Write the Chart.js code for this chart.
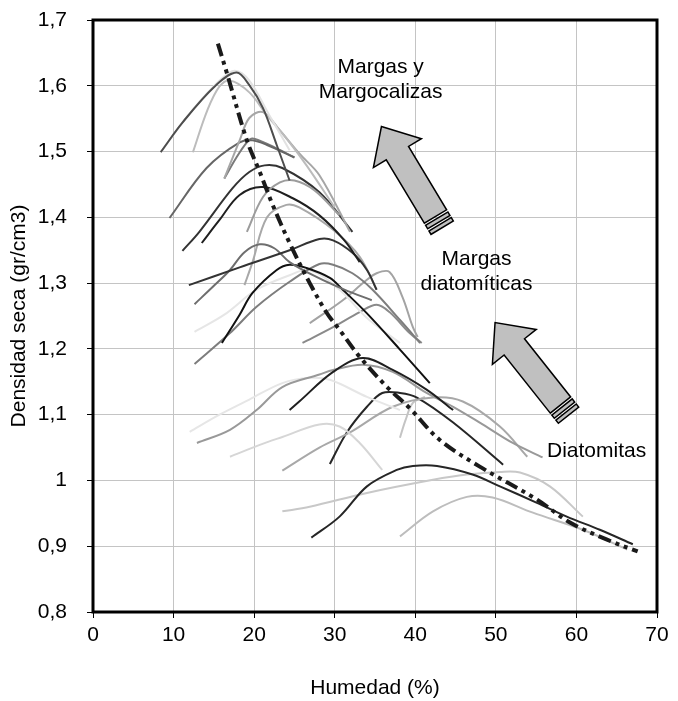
<!DOCTYPE html>
<html>
<head>
<meta charset="utf-8">
<script src="https://cdn.jsdelivr.net/npm/chart.js@4.4.1/dist/chart.umd.min.js"></script>
<style>
  html, body { margin: 0; padding: 0; background: #fff; }
  #wrap { width: 678px; height: 701px; }
</style>
</head>
<body>
<div id="wrap"><canvas id="curvas" width="678" height="701"></canvas></div>
<script>
// ejes
const xTicks = [0, 10, 20, 30, 40, 50, 60, 70];
const yTicks = [0.8, 0.9, 1.0, 1.1, 1.2, 1.3, 1.4, 1.5, 1.6, 1.7];
const yTickLabels = ["0,8", "0,9", "1", "1,1", "1,2", "1,3", "1,4", "1,5", "1,6", "1,7"];

// curvas Proctor: [humedad %, densidad seca gr/cm3]
const curve01 = [[8.4,1.499],[11.1,1.544],[15.1,1.599],[17.8,1.620],[19.4,1.601],[21.1,1.566],[22.8,1.510],[24.4,1.456]];
const curve02 = [[8.4,1.499],[12.0,1.558],[15.7,1.608],[17.6,1.623],[19.4,1.608],[21.9,1.555],[24.4,1.502]];
const curve03 = [[12.4,1.499],[14.2,1.563],[15.7,1.599],[17.0,1.608],[19.4,1.590],[21.6,1.555],[24.0,1.520],[26.5,1.479],[30.0,1.415]];
const curve04 = [[16.3,1.459],[18.2,1.517],[19.4,1.551],[21.1,1.560],[23.2,1.532],[25.6,1.497],[28.1,1.464],[31.9,1.378]];
const curve05 = [[19.1,1.378],[21.1,1.431],[23.2,1.453],[25.0,1.456],[27.5,1.441],[30.6,1.403]];
const curve06 = [[9.5,1.399],[14.1,1.475],[18.2,1.514],[19.8,1.517],[21.6,1.510],[25.0,1.491]];
const curve07 = [[16.3,1.459],[17.8,1.491],[19.1,1.514],[19.8,1.520],[21.9,1.510],[25.0,1.491]];
const curve08 = [[11.1,1.349],[13.2,1.378],[17.3,1.444],[19.4,1.469],[21.3,1.479],[23.5,1.475],[28.1,1.438],[32.2,1.378]];
const curve09 = [[13.5,1.361],[15.7,1.396],[18.2,1.434],[21.1,1.446],[24.8,1.429],[28.1,1.403],[31.2,1.365],[33.1,1.332]];
const curve10 = [[11.9,1.297],[18.2,1.324],[24.4,1.350],[28.1,1.367],[29.8,1.365],[32.2,1.346],[34.0,1.320],[35.2,1.290]];
const curve11 = [[12.6,1.268],[15.1,1.297],[17.0,1.320],[18.8,1.347],[20.7,1.359],[22.5,1.353],[24.4,1.332],[27.8,1.309],[31.2,1.290],[34.6,1.274]];
const curve12 = [[18.8,1.297],[19.8,1.332],[21.6,1.400],[24.0,1.419],[25.6,1.415],[29.8,1.381],[33.1,1.340],[35.2,1.290]];
const curve13 = [[16.0,1.209],[18.2,1.252],[19.8,1.285],[22.8,1.320],[24.4,1.328],[26.5,1.323],[29.4,1.308],[31.0,1.290],[34.0,1.254],[38.1,1.199],[41.8,1.148]];
const curve14 = [[12.6,1.177],[17.0,1.224],[20.3,1.264],[24.4,1.302],[28.1,1.329],[29.8,1.328],[32.2,1.315],[34.7,1.290],[38.1,1.244],[40.6,1.209]];
const curve15 = [[12.6,1.226],[16.3,1.252],[20.3,1.290],[24.4,1.312],[26.9,1.320],[30.6,1.290],[34.0,1.247],[38.1,1.209]];
const curve16 = [[26.9,1.239],[31.0,1.274],[33.7,1.302],[35.2,1.315],[36.8,1.317],[38.4,1.279],[39.7,1.233],[40.3,1.218]];
const curve17 = [[26.0,1.209],[29.8,1.233],[33.1,1.256],[35.2,1.267],[36.8,1.256],[39.3,1.224],[40.8,1.209]];
const curve18 = [[24.4,1.107],[25.6,1.120],[29.8,1.165],[33.5,1.186],[37.2,1.168],[41.4,1.138],[44.7,1.107]];
const curve19 = [[12.9,1.057],[17.0,1.077],[20.3,1.107],[23.5,1.142],[28.1,1.161],[29.8,1.168],[33.5,1.176],[37.2,1.165],[41.4,1.133],[44.7,1.112],[48.0,1.088],[52.1,1.057],[55.8,1.035]];
const curve20 = [[12.0,1.074],[15.7,1.100],[19.4,1.123],[23.5,1.148],[26.9,1.156],[29.4,1.153],[34.0,1.127],[38.1,1.107]];
const curve21 = [[17.0,1.036],[20.7,1.054],[23.5,1.066],[28.1,1.085],[30.6,1.082],[33.1,1.057],[35.9,1.016]];
const curve22 = [[23.5,1.015],[28.1,1.050],[31.9,1.073],[37.2,1.112],[42.2,1.126],[45.9,1.120],[50.5,1.082],[53.9,1.036]];
const curve23 = [[29.4,1.025],[31.5,1.073],[34.0,1.112],[35.9,1.133],[38.1,1.133],[40.2,1.126],[44.7,1.088],[50.9,1.024]];
const curve24 = [[38.1,1.065],[38.8,1.092],[39.7,1.118],[41.2,1.127]];
const curve25 = [[27.1,0.913],[30.6,0.945],[34.0,0.991],[37.7,1.016],[39.7,1.022],[42.7,1.022],[47.1,1.009],[50.5,0.991],[55.1,0.966],[58.8,0.945],[62.9,0.925],[67.0,0.903]];
const curve26 = [[23.5,0.953],[26.9,0.960],[34.0,0.981],[42.2,1.001],[46.4,1.009],[50.5,1.013],[53.0,1.012],[56.7,0.991],[60.8,0.945]];
const curve27 = [[38.1,0.915],[42.2,0.953],[46.4,0.975],[49.6,0.974],[54.6,0.951],[60.8,0.925],[66.3,0.895]];

// línea de tendencia (humedad óptima / densidad máxima)
const trendLine = [[15.5,1.664],[16.6,1.620],[19.1,1.517],[20.7,1.469],[22.3,1.419],[24.4,1.361],[26.9,1.300],[29.0,1.255],[30.6,1.229],[33.1,1.188],[36.5,1.142],[39.3,1.110],[43.0,1.062],[48.0,1.021],[55.1,0.971],[59.2,0.936],[63.8,0.910],[67.6,0.892]];

const curves = [curve01, curve02, curve03, curve04, curve05, curve06, curve07, curve08, curve09,
  curve10, curve11, curve12, curve13, curve14, curve15, curve16, curve17, curve18, curve19,
  curve20, curve21, curve22, curve23, curve24, curve25, curve26, curve27];
const curveShades = ["#4d4d4d", "#e2e2e2", "#bcbcbc", "#a6a6a6", "#9c9c9c", "#666666", "#7a7a7a", "#333333", "#1f1f1f",
  "#333333", "#6e6e6e", "#a8a8a8", "#111111", "#7d7d7d", "#e6e6e6", "#a3a3a3", "#8a8a8a", "#1f1f1f", "#999999",
  "#e6e6e6", "#d6d6d6", "#a8a8a8", "#262626", "#c4c4c4", "#262626", "#c8c8c8", "#bdbdbd"];

const FONT = "'Liberation Sans', Arial, sans-serif";
Chart.defaults.font.family = FONT;
Chart.defaults.color = "#000";

const datasets = curves.map((pts, i) => ({
  data: pts.map(([x, y]) => ({ x, y })),
  borderColor: curveShades[i],
  borderWidth: 2,
  order: 1,
}));
datasets.push({
  data: trendLine.map(([x, y]) => ({ x, y })),
  borderColor: "#1a1a1a",
  borderWidth: 4,
  borderDash: [13, 5, 4, 5, 4, 5],
  borderCapStyle: "butt",
  order: 0,
});

// flechas y rótulos de zonas
function blockArrow(ctx, tail, tip) {
  const dx = tip.x - tail.x, dy = tip.y - tail.y;
  const len = Math.hypot(dx, dy);
  const hw = 13, hh = 28, hl = 31;
  ctx.save();
  ctx.translate(tail.x, tail.y);
  ctx.rotate(Math.atan2(dy, dx));
  ctx.fillStyle = "#c0c0c0";
  ctx.strokeStyle = "#000";
  ctx.lineWidth = 1.5;
  ctx.beginPath();
  ctx.moveTo(14, -hw);
  ctx.lineTo(len - hl, -hw);
  ctx.lineTo(len - hl, -hh);
  ctx.lineTo(len, 0);
  ctx.lineTo(len - hl, hh);
  ctx.lineTo(len - hl, hw);
  ctx.lineTo(14, hw);
  ctx.closePath();
  ctx.fill();
  ctx.stroke();
  [[7.5, 4], [1, 4]].forEach(([x0, w]) => {
    ctx.fillRect(x0, -hw, w, 2 * hw);
    ctx.strokeRect(x0, -hw, w, 2 * hw);
  });
  ctx.restore();
}

const zonas = {
  id: "zonas",
  afterDatasetsDraw(chart) {
    const { ctx, scales: { x, y }, chartArea: a } = chart;
    const p = (hx, dy) => ({ x: x.getPixelForValue(hx), y: y.getPixelForValue(dy) });

    blockArrow(ctx, p(43.4, 1.383), p(35.8, 1.538));
    blockArrow(ctx, p(59.1, 1.098), p(49.9, 1.240));

    ctx.save();
    ctx.fillStyle = "#000";
    ctx.font = "21px " + FONT;
    ctx.textAlign = "center";
    ctx.textBaseline = "middle";
    const t = (txt, hx, dy) => { const q = p(hx, dy); ctx.fillText(txt, q.x, q.y); };
    t("Margas y", 35.7, 1.628);
    t("Margocalizas", 35.7, 1.590);
    t("Margas", 47.6, 1.337);
    t("diatomíticas", 47.6, 1.299);
    t("Diatomitas", 62.5, 1.045);

    // marco del área de trazado
    ctx.strokeStyle = "#000";
    ctx.lineWidth = 3;
    ctx.strokeRect(a.left, a.top, a.right - a.left, a.bottom - a.top);
    ctx.restore();
  },
};

// sin márgenes extra de las etiquetas: el área de trazado queda fijada por el layout
const noLabelPadding = (s) => {
  s.paddingTop = 0;
  s.paddingBottom = 0;
  s.paddingLeft = 0;
  s.paddingRight = 0;
};

new Chart(document.getElementById("curvas"), {
  type: "scatter",
  data: { datasets },
  options: {
    responsive: false,
    animation: false,
    devicePixelRatio: 1,
    showLine: true,
    elements: {
      point: { radius: 0, hoverRadius: 0 },
      line: { tension: 0.35, fill: false },
    },
    layout: { padding: { top: 20, right: 21, left: 0, bottom: 0 } },
    plugins: { legend: { display: false }, tooltip: { enabled: false } },
    scales: {
      x: {
        type: "linear",
        min: 0,
        max: 70,
        afterBuildTicks: (s) => { s.ticks = xTicks.map((v) => ({ value: v })); },
        afterFit: (s) => { s.height = 89; noLabelPadding(s); },
        ticks: { font: { size: 21 }, padding: 5, maxRotation: 0 },
        grid: { color: "#c4c4c4", tickColor: "#000", tickLength: 6 },
        border: { display: false },
        title: { display: true, text: "Humedad (%)", font: { size: 21 }, padding: { top: 0, bottom: 0 } },
      },
      y: {
        type: "linear",
        min: 0.8,
        max: 1.7,
        afterBuildTicks: (s) => { s.ticks = yTicks.map((v) => ({ value: v })); },
        afterFit: (s) => { s.width = 93; noLabelPadding(s); },
        ticks: { font: { size: 21 }, padding: 20, callback: (v, i) => yTickLabels[i] },
        grid: { color: "#c4c4c4", tickColor: "#000", tickLength: 6 },
        border: { display: false },
        title: { display: true, text: "Densidad seca (gr/cm3)", font: { size: 21 }, padding: { top: 7, bottom: 0 } },
      },
    },
  },
  plugins: [zonas],
});
</script>
</body>
</html>
